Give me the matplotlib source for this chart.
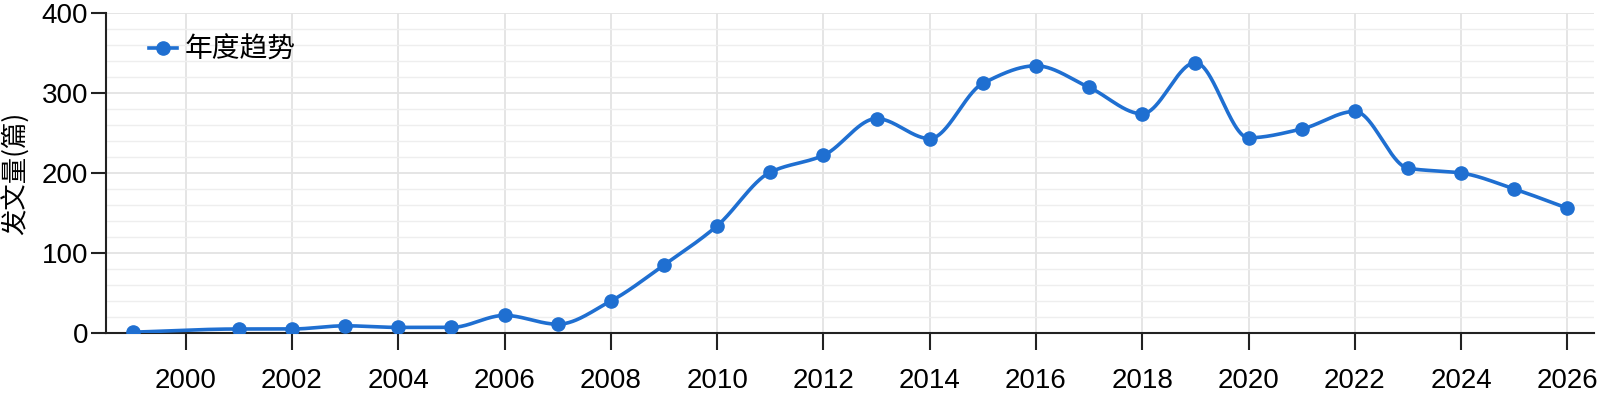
import numpy as np
import matplotlib
matplotlib.use("Agg")
import matplotlib.pyplot as plt
from matplotlib.ticker import MultipleLocator

plt.rcParams['font.family'] = ['Liberation Sans', 'Noto Sans CJK SC', 'DejaVu Sans']

years = [1999, 2001, 2002, 2003, 2004, 2005, 2006, 2007, 2008, 2009, 2010, 2011, 2012,
         2013, 2014, 2015, 2016, 2017, 2018, 2019, 2020, 2021, 2022, 2023, 2024, 2025, 2026]
counts = [1, 5, 5, 9, 7, 7, 22, 11, 40, 85, 134, 201, 222,
          268, 243, 312, 334, 307, 274, 338, 244, 255, 277, 206, 200, 180, 156]
series_name = "年度趋势"
ylabel = "发文量(篇)"
xticks = list(range(2000, 2027, 2))
yticks = [0, 100, 200, 300, 400]

color = '#1f6fd1'


def pchip(x, y, xs):
    x = np.asarray(x, float); y = np.asarray(y, float)
    h = np.diff(x); d = np.diff(y) / h
    n = len(x)
    m = np.zeros(n)
    for k in range(1, n - 1):
        if d[k - 1] * d[k] > 0:
            w1 = 2 * h[k] + h[k - 1]
            w2 = h[k] + 2 * h[k - 1]
            m[k] = (w1 + w2) / (w1 / d[k - 1] + w2 / d[k])
    m[0] = d[0]; m[-1] = d[-1]
    idx = np.clip(np.searchsorted(x, xs) - 1, 0, n - 2)
    t = (xs - x[idx]) / h[idx]
    h00 = 2 * t**3 - 3 * t**2 + 1
    h10 = t**3 - 2 * t**2 + t
    h01 = -2 * t**3 + 3 * t**2
    h11 = t**3 - t**2
    return h00 * y[idx] + h10 * h[idx] * m[idx] + h01 * y[idx + 1] + h11 * h[idx] * m[idx + 1]


fig = plt.figure(figsize=(15.97, 4.04), dpi=100)
ax = fig.add_axes([106 / 1597, 1 - 333 / 404, (1594 - 106) / 1597, 320 / 404])

xs = np.linspace(years[0], years[-1], 2000)
ys = pchip(years, counts, xs)
ax.plot(xs, ys, color=color, lw=2.6, zorder=3, solid_capstyle='round')
ax.plot(years, counts, 'o', color=color, ms=9.5, zorder=4)
ax.plot([], [], '-o', color=color, lw=2.6, ms=9.5, label=series_name)

ax.set_xlim(1998.5, 2026.5)
ax.set_ylim(0, 400)
ax.set_xticks(xticks)
ax.set_yticks(yticks)
ax.yaxis.set_minor_locator(MultipleLocator(20))
ax.grid(which='major', color='#e3e3e3', lw=1.3, zorder=0)
ax.grid(which='minor', axis='y', color='#eeeeee', lw=1.0, zorder=0)
ax.set_axisbelow(True)

for s in ['top', 'right']:
    ax.spines[s].set_visible(False)
ax.spines['left'].set_color('#222222')
ax.spines['bottom'].set_color('#222222')
ax.spines['left'].set_linewidth(1.5)
ax.spines['bottom'].set_linewidth(1.5)

ax.tick_params(axis='x', which='major', length=12, width=1.5, color='#222222', pad=13, labelsize=20)
ax.tick_params(axis='y', which='major', length=11, width=1.5, color='#222222', pad=2, labelsize=20)
ax.tick_params(axis='y', which='minor', length=0)

ax.set_ylabel(ylabel, fontsize=19, family=['Noto Sans CJK SC', 'DejaVu Sans'])
ax.yaxis.set_label_coords(-0.051, 0.5)

leg = ax.legend(loc='upper left', bbox_to_anchor=(0.012, 1.01), frameon=False,
                prop={'family': ['Noto Sans CJK SC', 'DejaVu Sans'], 'size': 20},
                handlelength=1.0, handletextpad=0.3)

fig.savefig('out.png', dpi=100)
